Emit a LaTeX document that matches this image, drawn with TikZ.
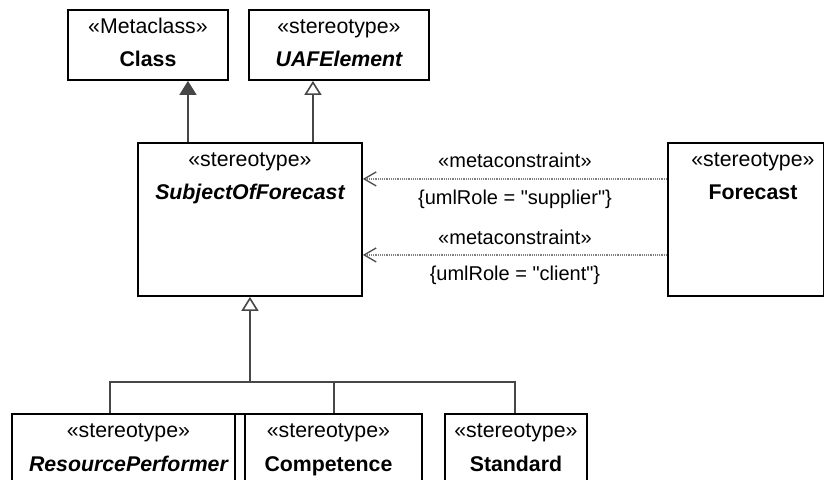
\documentclass[tikz,border=0pt]{standalone}
\usepackage{fontspec}
\setmainfont{Liberation Sans}
\usetikzlibrary{arrows.meta,positioning}

\begin{document}
\begin{tikzpicture}[x=0.5pt, y=-0.5pt,
    umlbox/.style={draw, line width=0.95pt, anchor=north west, inner sep=0pt},
    stereo/.style={anchor=base, font=\fontsize{10.65}{12}\selectfont},
    cname/.style={anchor=base, font=\fontsize{10.65}{12}\selectfont\bfseries},
    aname/.style={anchor=base, font=\fontsize{10.65}{12}\selectfont\bfseries\itshape},
    lbl/.style={anchor=base, font=\fontsize{10}{12}\selectfont},
    conn/.style={draw=black!72, line width=0.8pt},
    genopen/.style={conn, -{Triangle[open, length=7pt, width=8.5pt, fill=white]}},
    genfill/.style={conn, -{Triangle[length=7pt, width=8.5pt]}},
    depend/.style={draw=black!50, line width=0.7pt, dash pattern=on 0.6pt off 0.5pt,
        -{Straight Barb[length=6pt, width=7pt, line width=0.65pt, color=black!70]}}]
    \clip (0,0) rectangle (824,480);

    \node[umlbox, minimum width=80pt, minimum height=35pt] (cls) at (67,9) {};
    \node[stereo] (cls-st) at ([yshift=-12.25pt]cls.north) {«Metaclass»};
    \node[cname] (cls-nm) at ([yshift=-29pt]cls.north) {Class};

    \node[umlbox, minimum width=90pt, minimum height=35pt] (uaf) at (248,9) {};
    \node[stereo] (uaf-st) at ([yshift=-12.25pt]uaf.north) {«stereotype»};
    \node[aname] (uaf-nm) at ([yshift=-29pt]uaf.north) {UAFElement};

    \node[umlbox, minimum width=112pt, minimum height=76.5pt] (sof) at (137,142) {};
    \node[stereo] (sof-st) at ([yshift=-12.25pt]sof.north) {«stereotype»};
    \node[aname] (sof-nm) at ([yshift=-29pt]sof.north) {SubjectOfForecast};

    \node[umlbox, minimum width=78pt, minimum height=76.5pt] (fct) at (667,142) {};
    \node[stereo] (fct-st) at ([xshift=3.5pt, yshift=-12.25pt]fct.north) {«stereotype»};
    \node[cname] (fct-nm) at ([xshift=3.5pt, yshift=-29pt]fct.north) {Forecast};

    \node[umlbox, minimum width=116.5pt, minimum height=45pt] (rp) at (11,413) {};
    \node[stereo] (rp-st) at ([yshift=-12.25pt]rp.north) {«stereotype»};
    \node[aname] (rp-nm) at ([yshift=-29pt]rp.north) {ResourcePerformer};

    \node[umlbox, minimum width=93.5pt, minimum height=45pt] (cmp) at (234,413) {};
    \node[stereo] (cmp-st) at ([yshift=-12.25pt]cmp.north) {«stereotype»};
    \node[cname] (cmp-nm) at ([yshift=-29pt]cmp.north) {Competence};

    \node[umlbox, minimum width=71pt, minimum height=45pt] (std) at (444,413) {};
    \node[stereo] (std-st) at ([yshift=-12.25pt]std.north) {«stereotype»};
    \node[cname] (std-nm) at ([yshift=-29pt]std.north) {Standard};

    \draw[genfill] ([xshift=-31pt]sof.north) -- ([xshift=20pt]cls.south);
    \draw[genopen] ([xshift=31.5pt]sof.north) -- ([xshift=-13pt]uaf.south);

    \draw[depend] ([yshift=20.25pt]fct.west) -- ([yshift=20.25pt]sof.east)
        node[lbl, midway, yshift=5.6pt] (mc1) {«metaconstraint»}
        node[lbl, midway, yshift=-13pt] (role1) {\{umlRole = \textquotedbl supplier\textquotedbl\}};
    \draw[depend] ([yshift=-17.75pt]fct.west) -- ([yshift=-17.75pt]sof.east)
        node[lbl, midway, yshift=5.2pt] (mc2) {«metaconstraint»}
        node[lbl, midway, yshift=-13pt] (role2) {\{umlRole = \textquotedbl client\textquotedbl\}};

    \coordinate[below=42.5pt of sof.south] (jn);
    \draw[genopen] (jn) -- (sof.south);
    \draw[conn] ([xshift=-9.25pt]rp.north) |- (jn);
    \draw[conn] ([xshift=2.75pt]cmp.north) |- (jn);
    \draw[conn] ([xshift=-0.5pt]std.north) |- (jn);
\end{tikzpicture}
\end{document}
